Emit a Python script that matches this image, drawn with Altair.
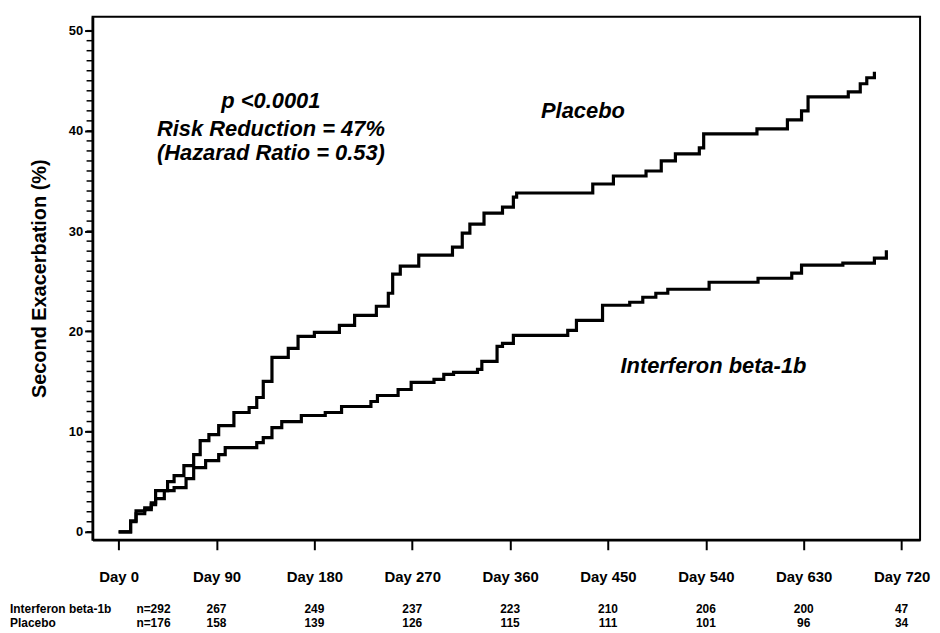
import altair as alt
import pandas as pd

# ---- Kaplan-Meier style step curves (change points) ----
placebo_day = [0, 11, 16, 24, 30, 34, 45, 51, 60, 69, 75, 83, 92, 106, 120, 127, 133,
               141, 156, 165, 180, 203, 217, 237, 248, 252, 259, 276, 307, 316, 323,
               336, 353, 363, 366, 436, 455, 485, 499, 512, 534, 538, 587, 615, 628,
               634, 671, 682, 688, 695]
placebo_pct = [0, 1.1, 2.1, 2.4, 2.9, 4.1, 5.0, 5.6, 6.6, 7.7, 9.1, 9.7, 10.6, 11.9,
               12.4, 13.4, 15.0, 17.4, 18.3, 19.5, 19.9, 20.6, 21.6, 22.5, 23.8, 25.7,
               26.5, 27.6, 28.4, 29.8, 30.7, 31.8, 32.4, 33.4, 33.8, 34.7, 35.5, 36.0,
               37.0, 37.7, 38.3, 39.7, 40.2, 41.1, 42.0, 43.4, 43.9, 44.7, 45.3, 45.9]

interferon_day = [0, 11, 16, 24, 30, 34, 42, 51, 62, 69, 80, 92, 98, 127, 133, 141, 150,
                  168, 190, 205, 232, 238, 257, 269, 290, 299, 308, 330, 334, 348, 353,
                  363, 413, 421, 445, 470, 482, 494, 505, 543, 588, 619, 628, 666, 695, 706]
interferon_pct = [0, 1.0, 1.8, 2.2, 2.7, 3.3, 4.1, 4.4, 5.3, 6.4, 7.1, 7.7, 8.4, 8.9, 9.4,
                  10.4, 11.0, 11.6, 11.9, 12.5, 13.0, 13.6, 14.2, 14.9, 15.2, 15.7, 15.9,
                  16.2, 17.0, 18.5, 18.8, 19.6, 20.1, 21.1, 22.6, 22.9, 23.4, 23.8, 24.2,
                  24.9, 25.3, 25.8, 26.6, 26.8, 27.3, 28.1]

# ---- axes ----
tick_days = [0, 90, 180, 270, 360, 450, 540, 630, 720]
y_major = [0, 10, 20, 30, 40, 50]
y_minor = list(range(0, 51))

# ---- number at risk table ----
at_risk_days = [90, 180, 270, 360, 450, 540, 630, 720]
interferon_at_risk = [267, 249, 237, 223, 210, 206, 200, 47]
placebo_at_risk = [158, 139, 126, 115, 111, 101, 96, 34]
row_labels = ["Interferon beta-1b", "Placebo"]
row_n = ["n=292", "n=176"]
n_col_day = 32

# ---- annotations ----
stats_lines = ["p <0.0001", "Risk Reduction = 47%", "(Hazarad Ratio = 0.53)"]
stats_day = [140, 140, 140]
stats_pct = [43.0, 40.2, 37.8]
curve_labels = ["Placebo", "Interferon beta-1b"]
curve_label_day = [427, 547]
curve_label_pct = [42.0, 16.5]

FONT = "Liberation Sans"

curves = pd.concat([
    pd.DataFrame({"day": placebo_day, "pct": placebo_pct, "group": "Placebo"}),
    pd.DataFrame({"day": interferon_day, "pct": interferon_pct, "group": "Interferon beta-1b"}),
])

xs = alt.Scale(domain=[-24, 737], nice=False, zero=False)
ys = alt.Scale(domain=[-0.8, 51.4], nice=False, zero=False)

x_axis = alt.Axis(values=tick_days, labelExpr="'Day ' + datum.value", labelFont=FONT,
                  labelFontSize=15, labelFontWeight="bold", labelColor="black",
                  tickSize=10, tickWidth=2, tickColor="black", domainColor="black",
                  domainWidth=2.5, labelPadding=20, grid=False, title=None,
                  labelFlush=False, labelOverlap=False)

y_axis = alt.Axis(values=y_major, orient="left", labelFont=FONT, labelFontSize=13,
                  labelFontWeight="bold", labelColor="black", tickSize=8, tickWidth=2,
                  tickColor="black", domainColor="black", domainWidth=2.5,
                  labelPadding=2, grid=False, title="Second Exacerbation (%)",
                  titleFont=FONT, titleFontSize=20, titleFontWeight="bold",
                  titleColor="black", titleX=-53, titleY=263, titleAngle=270,
                  titleAlign="center", titleBaseline="middle")

X = alt.X("day:Q", scale=xs, axis=x_axis)
Y_axis = alt.Y("pct:Q", scale=ys, axis=y_axis)
Y_plain = alt.Y("pct:Q", scale=ys, axis=None)

lines = alt.Chart(curves).mark_line(
    color="black", strokeWidth=3.2, interpolate="step-after", strokeJoin="miter"
).encode(x=X, y=Y_axis, detail="group:N")

stats = alt.Chart(pd.DataFrame({"t": stats_lines, "day": stats_day, "pct": stats_pct})).mark_text(
    font=FONT, fontSize=22, fontWeight="bold", fontStyle="italic", color="black",
    align="center", baseline="middle"
).encode(x=X, y=Y_plain, text="t:N")

labels = alt.Chart(pd.DataFrame({"t": curve_labels, "day": curve_label_day, "pct": curve_label_pct})).mark_text(
    font=FONT, fontSize=22, fontWeight="bold", fontStyle="italic", color="black",
    align="center", baseline="middle"
).encode(x=X, y=Y_plain, text="t:N")

table_layers = []
for i, (counts, lab, n) in enumerate([(interferon_at_risk, row_labels[0], row_n[0]),
                                      (placebo_at_risk, row_labels[1], row_n[1])]):
    ypix = 596 + 14 * i
    df = pd.DataFrame({"day": [n_col_day] + at_risk_days,
                       "t": [n] + [str(c) for c in counts]})
    table_layers.append(
        alt.Chart(df).mark_text(font=FONT, fontSize=12, fontWeight="bold", color="black",
                                align="center", baseline="middle").encode(
            x=X, y=alt.value(ypix), text="t:N",
        )
    )
    table_layers.append(
        alt.Chart(pd.DataFrame({"t": [lab]})).mark_text(
            font=FONT, fontSize=12, fontWeight="bold", color="black",
            align="left", baseline="middle").encode(
            x=alt.value(-83), y=alt.value(ypix), text="t:N")
    )

# minor ticks on the y axis (one per percentage point)
minor = alt.Chart(pd.DataFrame({"v": y_minor})).mark_rule(
    color="black", strokeWidth=1.5
).encode(y=alt.Y("v:Q", scale=ys, axis=None), x=alt.value(-6), x2=alt.value(0))

chart = alt.layer(lines, stats, labels, *table_layers, minor).resolve_axis(
    y="independent"
).properties(
    width=832, height=526,
    autosize=alt.AutoSizeParams(type="none"),
    padding={"left": 85, "top": 7, "right": 12, "bottom": 88},
).configure_view(stroke="black", strokeWidth=2)

chart.save("out.html", embed_options={"renderer": "svg", "actions": False})
